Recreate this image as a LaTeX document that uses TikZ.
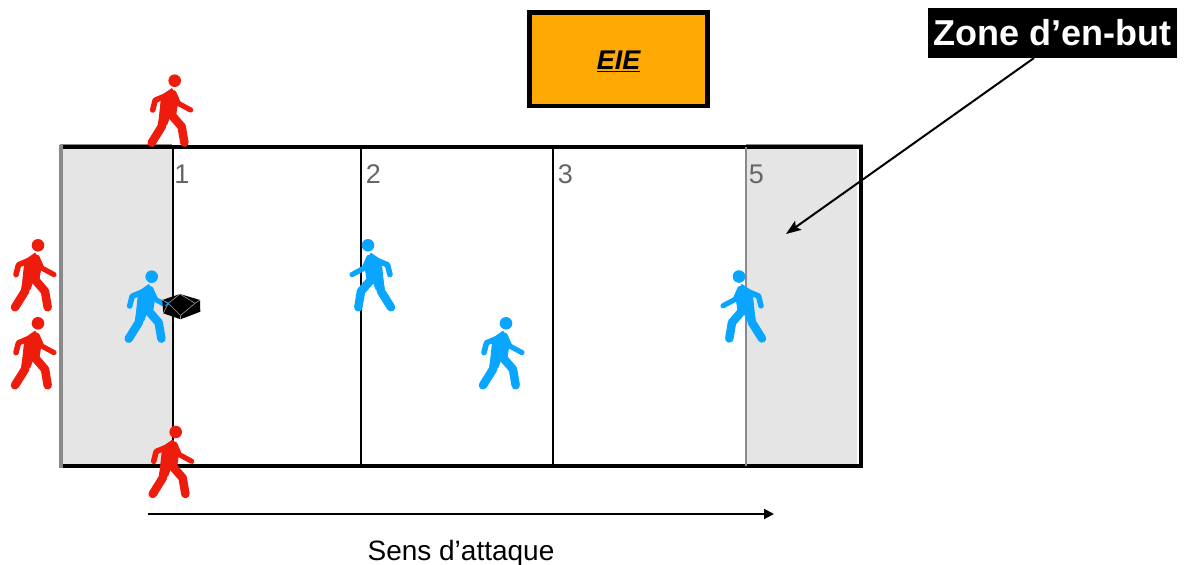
\documentclass[tikz,border=0pt]{standalone}
\usepackage{fontspec}
\setmainfont{Liberation Sans}
\usetikzlibrary{arrows.meta}
\definecolor{redp}{HTML}{EE1C0C}
\definecolor{bluep}{HTML}{0AA5FF}
\definecolor{zoneg}{HTML}{E5E5E5}
\definecolor{midg}{HTML}{8A8A8A}
\definecolor{numg}{HTML}{666666}
\definecolor{eieo}{HTML}{FFAA04}
\tikzset{
  x=1pt,y=-1pt,
  walker/.pic={
    \fill (0,0) circle (6.3);
    \draw[line width=5.6,line cap=round,line join=round] (-5,13.5) -- (-19.5,19.5) -- (-22,29.3);
    \draw[line width=5.2,line cap=round,line join=round] (-1,12) -- (3.7,22.7) -- (16,29.3);
    \filldraw[line width=1,line join=round] (-13,15) -- (-3,8) -- (3.5,18) -- (1,34) -- (-5,36) -- (-8,44) -- (-16,43) -- cycle;
    \draw[line width=8.5,line cap=round,line join=round] (-11,36) -- (-13,46) -- (-23,62);
    \draw[line width=8.5,line cap=round,line join=round] (-6,31) -- (7,46) -- (9.7,62);
  },
  redwalker/.style={redp,fill=redp,draw=redp},
  bluewalker/.style={bluep,fill=bluep,draw=bluep},
  numlab/.style={font=\fontsize{27}{27}\selectfont,text=numg,inner sep=0pt},
  divider/.style={line width=2,black},
  arrowline/.style={line width=2,-{Triangle[length=10,width=10]}},
  zonearrow/.style={line width=2,-{Stealth[length=15,width=11,inset=3]}},
  facet/.style={line width=.6,white!60!black}
}
\begin{document}
\begin{tikzpicture}
\useasboundingbox (0,0) rectangle (1192,565);
% end zones
\fill[zoneg] (61,147) rectangle (172,465);
\fill[zoneg] (746,147) rectangle (857,465);
% field
\draw[line width=4,black] (60,147) -- (861.3,147) -- (861.3,466) -- (60,466);
\draw[line width=4,midg] (60.7,145) -- (60.7,468);
\draw[line width=.8,midg] (60,144.6) -- (172,144.6);
\draw[line width=.8,midg] (746,144.6) -- (863,144.6);
% dividers
\draw[divider] (172.5,147) -- (172.5,466);
\draw[divider] (361,147) -- (361,466);
\draw[divider] (553,147) -- (553,466);
\draw[line width=2,midg] (745.5,147) -- (745.5,466);
% numbers
\node[numlab] (n1) at (182,174) {1};
\node[numlab] (n2) at (373.5,174) {2};
\node[numlab] (n3) at (565.5,174) {3};
\node[numlab] (n5) at (756.5,174) {5};
% EIE
\node[draw=black,line width=4.5,fill=eieo,minimum width=178,minimum height=93.5,inner sep=0pt,font=\fontsize{27}{27}\selectfont\bfseries\itshape] (eie) at (618.7,59) {\raisebox{-10.3pt}[1em][1em]{\underline{EIE}}};
% Zone label
\node[fill=black,text=white,minimum width=249,minimum height=50,inner sep=0pt,font=\fontsize{36}{36}\selectfont\bfseries] (zone) at (1052.5,33) {Zone d’en-but};
\coordinate (zonetarget) at (786,234);
\coordinate (zonestart) at (1034,58);
\draw[zonearrow] (zonestart) -- (zonetarget);
% direction
\coordinate (a1) at (148,514);
\coordinate (a2) at (774,514);
\draw[arrowline] (a1) -- (a2);
\node[font=\fontsize{28}{28}\selectfont,inner sep=0pt] (sens) at (461,553.5) {Sens d’attaque};
% players
\pic[redwalker] at (174.7,80.7) {walker};
\pic[redwalker] at (38,245.3) {walker};
\pic[redwalker] at (38,323.3) {walker};
\pic[redwalker] at (175.7,432) {walker};
\pic[bluewalker] at (151.7,276.7) {walker};
\pic[bluewalker] at (506,323.3) {walker};
\pic[bluewalker,xscale=-1] at (368,245.3) {walker};
\pic[bluewalker,xscale=-1] at (739,276.5) {walker};
% ball
\fill[black] (162.3,300) -- (180,294) -- (200,300) -- (200.3,311.7) -- (180.5,319.3) -- (163.3,313.3) -- cycle;
\draw[facet] (162.3,300) -- (168.3,303.3) -- (180,294) -- (195,303.3) -- (200,300);
\draw[facet] (163.3,313.3) -- (168.3,303.3) -- (180.5,315.5) -- (195,303.3);
\draw[facet] (180.5,315.5) -- (180.5,319.3);
\draw[line width=.8,bluep] (165,301.5) -- (170,305);
\draw[line width=.8,bluep] (165,306) -- (170,302);
\end{tikzpicture}
\end{document}
